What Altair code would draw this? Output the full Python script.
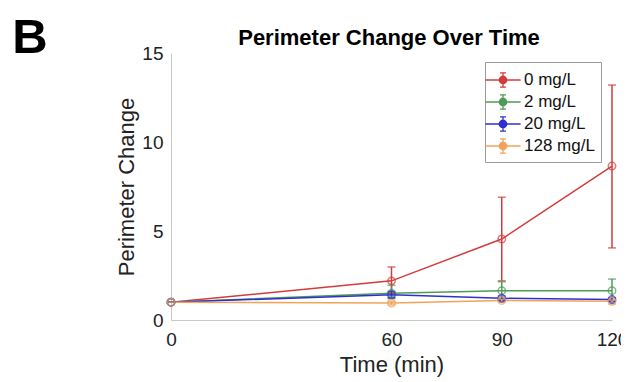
import altair as alt
import pandas as pd

times = [0, 60, 90, 120]
groups = ["0 mg/L", "2 mg/L", "20 mg/L", "128 mg/L"]
colors = ["#d23c3c", "#4f9a57", "#2f2fd0", "#f2a35a"]

mean_0 = [1.0, 2.2, 4.55, 8.65]
lo_0 = [1.0, 1.5, 2.2, 4.05]
hi_0 = [1.0, 2.98, 6.9, 13.2]

mean_2 = [1.0, 1.5, 1.65, 1.65]
lo_2 = [1.0, 1.2, 1.15, 1.05]
hi_2 = [1.0, 1.95, 2.15, 2.3]

mean_20 = [1.0, 1.42, 1.22, 1.15]
lo_20 = [1.0, 1.25, 1.1, 1.05]
hi_20 = [1.0, 1.6, 1.35, 1.25]

mean_128 = [1.0, 0.95, 1.1, 1.05]
lo_128 = [1.0, 0.85, 1.0, 0.9]
hi_128 = [1.0, 1.05, 1.2, 1.15]

series = [(mean_0, lo_0, hi_0), (mean_2, lo_2, hi_2),
          (mean_20, lo_20, hi_20), (mean_128, lo_128, hi_128)]
rows = []
for gi, (g, (m, lo, hi)) in enumerate(zip(groups, series)):
    for t, mv, lv, hv in zip(times, m, lo, hi):
        rows.append({"time": t, "group": g, "order": gi, "mean": mv, "lo": lv, "hi": hv})
df = pd.DataFrame(rows)

font = "Liberation Sans"
scale = alt.Scale(domain=groups, range=colors)
legend = alt.Legend(title=None, orient="none", legendX=314, legendY=9,
                    strokeColor="#9a9a9a", fillColor="white",
                    padding=6, labelFont=font, labelFontSize=17,
                    labelColor="#111", rowPadding=0,
                    symbolType="M-1.6,0H-0.34M0.34,0H1.6M0,-0.65V-0.34M0,0.34V0.65M-0.27,-0.65H0.27M-0.27,0.65H0.27M-0.34,0A0.34,0.34 0 1,0 0.34,0A0.34,0.34 0 1,0 -0.34,0",
                    symbolSize=484, symbolStrokeWidth=1.3,
                    symbolFillColor="transparent", labelOffset=9)
color_leg = alt.Color("group:N", scale=scale, sort=groups, legend=legend)
color = alt.Color("group:N", scale=scale, sort=groups, legend=None)

x = alt.X("time:Q", scale=alt.Scale(domain=[0, 120], nice=False),
          axis=alt.Axis(values=[0, 60, 90, 120], title="Time (min)", labelFlush=False))
y = alt.Y("mean:Q", scale=alt.Scale(domain=[0, 15], nice=False),
          axis=alt.Axis(values=[0, 5, 10, 15], title="Perimeter Change"))

base = alt.Chart(df)
lines = base.mark_line(strokeWidth=1.5).encode(
    x=x, y=y, color=color_leg, order="time:Q", detail="group:N")
err = base.mark_errorbar(ticks=alt.TickConfig(size=8, thickness=1.5), thickness=1.5).encode(
    x=x, y=alt.Y("lo:Q", title="Perimeter Change", scale=alt.Scale(domain=[0, 15], nice=False)),
    y2="hi:Q", color=color, detail="group:N")
pts = base.mark_point(filled=False, size=55, strokeWidth=1.5).encode(
    x=x, y=y, color=color)

label_b = alt.Chart(pd.DataFrame({"t": ["B"]})).mark_text(
    font=font, fontSize=49, fontWeight="bold", align="center", baseline="alphabetic", color="black"
).encode(x=alt.value(-141), y=alt.value(0), text="t:N")
title_t = alt.Chart(pd.DataFrame({"t": ["Perimeter Change Over Time"]})).mark_text(
    font=font, fontSize=22, fontWeight="bold", align="center", baseline="alphabetic", color="black"
).encode(x=alt.value(218), y=alt.value(-8), text="t:N")

chart = alt.layer(lines, err, pts, label_b, title_t).properties(
    width=441, height=267,
    autosize=alt.AutoSizeParams(type="none"),
    padding={"left": 163, "top": 45, "right": 9, "bottom": 59},
).configure_view(stroke=None).configure_axis(
    domainColor="#c8c8c8", domainWidth=1, grid=False, tickSize=0,
    labelFont=font, labelFontSize=19, labelColor="#222",
    titleFont=font, titleFontSize=22, titleFontWeight="normal", titleColor="#222",
).configure_axisX(labelPadding=10, titlePadding=5).configure_axisY(
    labelPadding=8, titlePadding=3)

chart.save("out.html", embed_options={"renderer": "svg", "actions": False})
